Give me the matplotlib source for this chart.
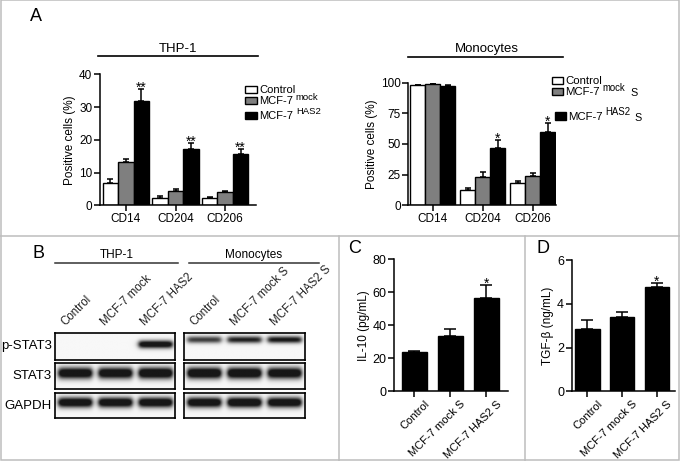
import matplotlib
matplotlib.use('Agg')
import matplotlib.pyplot as plt
import numpy as np
from matplotlib.patches import Rectangle
from matplotlib.transforms import ScaledTranslation

plt.rcParams['font.family'] = ['Liberation Sans', 'DejaVu Sans']

# ---- data ----
markers = ['CD14', 'CD204', 'CD206']

thp1_control = [6.9, 2.3, 2.2]
thp1_control_err = [1.1, 0.4, 0.3]
thp1_mock = [13.2, 4.5, 4.0]
thp1_mock_err = [1.0, 0.5, 0.5]
thp1_has2 = [31.8, 17.3, 15.8]
thp1_has2_err = [3.7, 1.6, 1.5]
thp1_stars = ['**', '**', '**']

mono_control = [98.0, 12.5, 18.4]
mono_control_err = [0.4, 1.9, 1.6]
mono_mock = [98.8, 22.8, 23.9]
mono_mock_err = [0.6, 4.1, 2.2]
mono_has2 = [97.6, 47.0, 59.8]
mono_has2_err = [0.5, 6.3, 7.1]
mono_stars = ['', '*', '*']

sup_groups = ['Control', 'MCF-7 mock S', 'MCF-7 HAS2 S']
il10 = [23.6, 33.3, 56.7]
il10_err = [1.0, 4.3, 7.9]
tgfb = [2.83, 3.41, 4.75]
tgfb_err = [0.41, 0.23, 0.18]
cyto_stars = ['', '', '*']

blot_rows = ['p-STAT3', 'STAT3', 'GAPDH']
thp1_lanes = ['Control', 'MCF-7 mock', 'MCF-7 HAS2']
mono_lanes = ['Control', 'MCF-7 mock S', 'MCF-7 HAS2 S']
# band intensity per lane (0 = no band, 1 = saturated)
thp1_pstat3 = [0.0, 0.0, 0.9]
thp1_stat3 = [0.95, 0.95, 1.0]
thp1_gapdh = [0.95, 0.95, 0.95]
mono_pstat3 = [0.6, 0.7, 0.75]
mono_stat3 = [1.0, 1.0, 0.95]
mono_gapdh = [0.95, 1.0, 0.95]

# ---- layout helpers (pixel coordinates, origin top-left) ----
W, H = 680, 461
fig = plt.figure(figsize=(6.8, 4.61), dpi=100)

ov = fig.add_axes([0, 0, 1, 1], zorder=-1)
ov.set_xlim(0, W)
ov.set_ylim(H, 0)
ov.axis('off')


def px_axes(x0, y0, x1, y1):
    return fig.add_axes([x0 / W, 1 - y1 / H, (x1 - x0) / W, (y1 - y0) / H],
                        facecolor='none')


def style(ax, size=8.5):
    for s in ['top', 'right']:
        ax.spines[s].set_visible(False)
    for s in ['left', 'bottom']:
        ax.spines[s].set_linewidth(1.1)
    ax.tick_params(direction='out', length=4, width=1.1, labelsize=size, pad=1.5)


def add_stars(ax, x, tops, stars, size=10):
    for xi, t, s in zip(x, tops, stars):
        if s:
            ax.annotate(s, (xi, t), xytext=(0, -2), textcoords='offset points',
                        ha='center', va='baseline', fontsize=size)


def grouped(ax, series, errs, stars, bw):
    colors = ['white', '#7f7f7f', 'black']
    x = np.arange(3)
    for j, (vals, err, c) in enumerate(zip(series, errs, colors)):
        xs = x + (j - 1) * bw
        ax.bar(xs, vals, bw, color=c, edgecolor='black', linewidth=1.0,
               yerr=[np.zeros(3), err],
               error_kw=dict(elinewidth=1.1, capsize=2.5, capthick=1.1, ecolor='black'))
    tops = np.array(series[2]) + np.array(errs[2])
    add_stars(ax, x + bw, tops, stars)
    ax.set_xticks(x)
    ax.set_xticklabels(markers)


def rich_label(x, y, parts, size):
    # parts: list of (text, raise_px, size_factor, gap_px)
    renderer = fig.canvas.get_renderer()
    cx = x
    for txt, rise, fac, gap in parts:
        cx += gap
        t = ov.text(cx, y - rise, txt, fontsize=size * fac, va='baseline')
        cx += t.get_window_extent(renderer).width


# ---- panel A, THP-1 ----
axA1 = px_axes(100, 74.3, 256, 205.3)
style(axA1)
grouped(axA1, [thp1_control, thp1_mock, thp1_has2],
        [thp1_control_err, thp1_mock_err, thp1_has2_err], thp1_stars, 0.31)
axA1.set_xlim(-0.52, 2.62)
axA1.set_ylim(0, 40)
axA1.set_yticks([0, 10, 20, 30, 40])
axA1.set_ylabel('Positive cells (%)', fontsize=8.5, labelpad=2)

# ---- panel A, Monocytes ----
axA2 = px_axes(408.3, 82.7, 555.5, 205.3)
style(axA2)
grouped(axA2, [mono_control, mono_mock, mono_has2],
        [mono_control_err, mono_mock_err, mono_has2_err], mono_stars, 0.3)
axA2.set_xlim(-0.49, 2.46)
axA2.set_ylim(0, 100)
axA2.set_yticks([0, 25, 50, 75, 100])
axA2.set_ylabel('Positive cells (%)', fontsize=8.5, labelpad=2)

# panel A titles and legends
ov.text(30, 21, 'A', fontsize=13)
ov.text(178, 52, 'THP-1', fontsize=9.5, ha='center')
ov.plot([98, 258], [56, 56], color='black', lw=1.2)
ov.text(487, 52, 'Monocytes', fontsize=9.5, ha='center')
ov.plot([408, 563], [57, 57], color='black', lw=1.2)

leg_colors = ['white', '#7f7f7f', 'black']
left_leg = [[('Control', 0, 1, 0)],
            [('MCF-7', 0, 1, 0), ('mock', 4, 0.85, 3)],
            [('MCF-7', 0, 1, 0), ('HAS2', 5, 0.85, 3)]]
for (y0, y1), c, parts in zip([(86, 93), (97, 104), (112, 119)], leg_colors, left_leg):
    ov.add_patch(Rectangle((245, y0), 12, y1 - y0, facecolor=c, edgecolor='black', lw=1.0))
    rich_label(259, y1, parts, 8)

right_leg = [[('Control', 0, 1, 0)],
             [('MCF-7', 0, 1, 0), ('mock', 4, 0.85, 3), ('S', -1, 0.95, 5)],
             [('MCF-7', 0, 1, 0), ('HAS2', 5, 0.85, 3), ('S', -1, 0.95, 4)]]
for (x0, y0, y1), tx, c, parts in zip([(552, 77, 84), (552, 88, 95), (555, 112, 120)],
                                      [565, 565, 568], leg_colors, right_leg):
    ov.add_patch(Rectangle((x0, y0), 11, y1 - y0, facecolor=c, edgecolor='black', lw=1.0))
    rich_label(tx, y1, parts, 8.2)

# ---- panel B, western blots ----
band_pos = {'p-STAT3': (0.44, 0.10), 'STAT3': (0.41, 0.15), 'GAPDH': (0.40, 0.14)}
mono_band_pos = {'p-STAT3': (0.27, 0.09), 'STAT3': (0.41, 0.15), 'GAPDH': (0.40, 0.14)}
row_boxes = [(332.7, 360), (363.3, 389.3), (393.3, 418.3)]


def blot(x0, x1, y0, y1, intens, center, sigma):
    ax = px_axes(x0, y0, x1, y1)
    nx, ny = 240, 60
    xx = np.linspace(0, 3, nx)
    yy = np.linspace(0, 1, ny)
    img = np.zeros((ny, nx))
    for i, v in enumerate(intens):
        xp = 1 / (1 + np.exp(-(xx - (i + 0.08)) / 0.035)) / (1 + np.exp((xx - (i + 0.92)) / 0.035))
        yp = np.exp(-0.5 * ((yy - center) / sigma) ** 2)
        img += v * np.outer(yp, xp)
    img = 0.97 - 0.88 * np.clip(img * 1.4, 0, 1)
    ax.imshow(img, cmap='gray', vmin=0, vmax=1, extent=[0, 3, 1, 0],
              aspect='auto', interpolation='bilinear')
    ax.set_xticks([])
    ax.set_yticks([])
    for s in ax.spines.values():
        s.set_linewidth(1.2)


thp1_blots = [thp1_pstat3, thp1_stat3, thp1_gapdh]
mono_blots = [mono_pstat3, mono_stat3, mono_gapdh]
for name, (y0, y1), tb, mb in zip(blot_rows, row_boxes, thp1_blots, mono_blots):
    blot(55, 175, y0, y1, tb, *band_pos[name])
    blot(184.3, 305, y0, y1, mb, *mono_band_pos[name])
    ov.text(52, (y0 + y1) / 2, name, fontsize=9.5, ha='right', va='center')

for (bx0, bx1), lanes in zip([(55, 175), (184.3, 305)], [thp1_lanes, mono_lanes]):
    for i, lab in enumerate(lanes):
        cx = bx0 + (i + 0.5) * (bx1 - bx0) / 3
        ov.text(cx - 8, 328, lab, fontsize=8.3, rotation=45, rotation_mode='anchor',
                ha='left', va='bottom', color='#222222')

ov.text(32, 258, 'B', fontsize=13)
ov.text(117, 258, 'THP-1', fontsize=8.5, ha='center')
ov.plot([55, 178], [263, 263], color='#333333', lw=1.1)
ov.text(254, 258, 'Monocytes', fontsize=8.5, ha='center')
ov.plot([189, 319], [263, 263], color='#333333', lw=1.1)


# ---- panels C and D ----
def cyto(ax, vals, err, ylim, yticks, ylabel, xlim):
    style(ax, 9)
    x = np.arange(3)
    ax.bar(x, vals, 0.71, color='black', edgecolor='black',
           yerr=[np.zeros(3), err],
           error_kw=dict(elinewidth=1.1, capsize=4, capthick=1.1, ecolor='black'))
    add_stars(ax, x, np.array(vals) + np.array(err), cyto_stars)
    ax.set_xlim(*xlim)
    ax.set_ylim(*ylim)
    ax.set_yticks(yticks)
    ax.set_xticks(x)
    ax.set_xticklabels(sup_groups, rotation=45, ha='right', rotation_mode='anchor',
                       fontsize=8)
    shift = ScaledTranslation(7 / 72, 0, fig.dpi_scale_trans)
    for lab in ax.get_xticklabels():
        lab.set_transform(lab.get_transform() + shift)
    ax.set_ylabel(ylabel, fontsize=8.5, labelpad=2)


axC = px_axes(394.3, 259.3, 507.7, 391.3)
cyto(axC, il10, il10_err, (0, 80), [0, 20, 40, 60, 80], 'IL-10 (pg/mL)', (-0.56, 2.59))
axD = px_axes(571.7, 260, 675, 391.3)
cyto(axD, tgfb, tgfb_err, (0, 6), [0, 2, 4, 6], 'TGF-β (ng/mL)', (-0.45, 2.52))

ov.text(348, 253, 'C', fontsize=13)
ov.text(537, 253, 'D', fontsize=13)

# ---- panel frame lines ----
grey = '#bdbdbd'
ov.add_patch(Rectangle((0.5, 0.5), W - 1.5, H - 2, fill=False, edgecolor=grey, lw=1.1))
ov.plot([0, W], [236, 236], color=grey, lw=1.1)
ov.plot([339, 339], [236, H], color=grey, lw=1.1)
ov.plot([525, 525], [236, H], color=grey, lw=1.1)

fig.savefig('out.png', dpi=100)
